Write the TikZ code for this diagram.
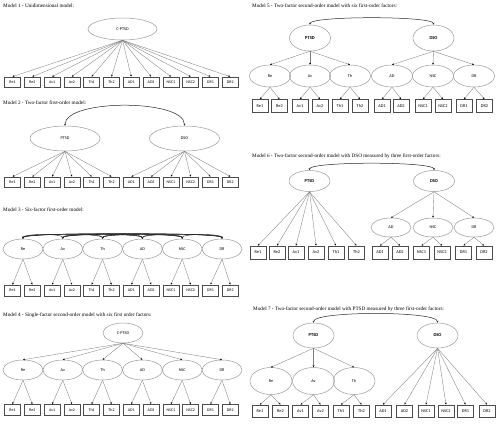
\documentclass[tikz,border=0pt]{standalone}
\usepackage{fontspec}
\setmainfont{Liberation Serif}
\newfontfamily\lblfont{Carlito}
\usetikzlibrary{arrows.meta,shapes.geometric}
\begin{document}
\begin{tikzpicture}[x=1pt,y=-1pt,
 lat/.style={ellipse, draw=black!40, line width=0.5pt, inner sep=0pt, font=\lblfont\fontsize{4.2}{5}\selectfont},
 latb/.style={lat, font=\lblfont\bfseries\fontsize{4.5}{5}\selectfont},
 obs/.style={rectangle, draw=black!70, line width=0.8pt, inner sep=0pt, minimum width=16pt, minimum height=10pt, font=\lblfont\fontsize{4}{5}\selectfont},
 obsr/.style={obs, minimum width=16pt, minimum height=13pt, font=\lblfont\fontsize{4.3}{5}\selectfont},
 arr/.style={draw=black!50, line width=0.35pt, -{Stealth[length=2pt,width=1.8pt,color=black]}},
 cov/.style={draw=black!85, line width=0.5pt, {Stealth[length=2pt,width=1.8pt]}-{Stealth[length=2pt,width=1.8pt]}},
 ttl/.style={anchor=west, inner sep=0pt, font=\fontsize{5.2}{6}\selectfont}]
\useasboundingbox (0,0) rectangle (500,423);

% ---------------- Model 1 ----------------
\node[ttl] (t1) at (3,6) {Model 1 - Unidimensional model:};
\node[lat, minimum width=69pt, minimum height=22pt] (m1c) at (122.5,29) {C-PTSD};
\foreach \lab [count=\i] in {Re1,Re2,Av1,Av2,Th1,Th2,AD1,AD2,NSC1,NSC2,DR1,DR2} {
  \pgfmathsetmacro\xx{12.5+19.8*(\i-1)}
  \node[obs] (m1o\i) at (\xx,82) {\lab};
  \draw[arr] (m1c.south) -- (m1o\i.north);
}

% ---------------- Model 2 ----------------
\node[ttl] (t2) at (3,103) {Model 2 - Two-factor first-order model:};
\node[lat, minimum width=70pt, minimum height=25pt] (m2p) at (65,138.5) {PTSD};
\node[lat, minimum width=70pt, minimum height=25pt] (m2d) at (184.5,138.5) {DSO};
\draw[cov] (m2p.north) .. controls +(0,-27) and +(0,-27) .. (m2d.north);
\foreach \lab [count=\i] in {Re1,Re2,Av1,Av2,Th1,Th2,AD1,AD2,NSC1,NSC2,DR1,DR2} {
  \pgfmathsetmacro\xx{12.5+19.8*(\i-1)}
  \node[obs] (m2o\i) at (\xx,182) {\lab};
}
\foreach \i in {1,...,6} {\draw[arr] (m2p.south) -- (m2o\i.north);}
\foreach \i in {7,...,12} {\draw[arr] (m2d.south) -- (m2o\i.north);}

% ---------------- Model 3 ----------------
\node[ttl] (t3) at (3,210) {Model 3 - Six-factor first-order model:};
\foreach \lab [count=\i] in {Re,Av,Th,AD,NSC,DR} {
  \pgfmathsetmacro\xx{23+39.8*(\i-1)}
  \node[lat, minimum width=40pt, minimum height=20pt] (m3f\i) at (\xx,249) {\lab};
}
\foreach \a in {1,...,5} {
  \pgfmathtruncatemacro\s{\a+1}
  \foreach \b in {\s,...,6} {
    \pgfmathsetmacro\h{-5-0.3*(\b-\a)}
    \draw[cov, line width=0.4pt] (m3f\a.north) .. controls +(0,\h) and +(0,\h) .. (m3f\b.north);
  }
}
\foreach \lab [count=\i] in {Re1,Re2,Av1,Av2,Th1,Th2,AD1,AD2,NSC1,NSC2,DR1,DR2} {
  \pgfmathsetmacro\xx{12.5+19.8*(\i-1)}
  \node[obs, minimum height=11pt] (m3o\i) at (\xx,290.5) {\lab};
  \pgfmathtruncatemacro\f{int((\i+1)/2)}
  \draw[arr] (m3f\f.south) -- (m3o\i.north);
}

% ---------------- Model 4 ----------------
\node[ttl] (t4) at (3,315) {Model 4 - Single-factor second-order model with six first order factors:};
\node[lat, minimum width=40pt, minimum height=20pt] (m4c) at (123,333) {C-PTSD};
\foreach \lab [count=\i] in {Re,Av,Th,AD,NSC,DR} {
  \pgfmathsetmacro\xx{23+39.8*(\i-1)}
  \node[lat, minimum width=40pt, minimum height=20pt] (m4f\i) at (\xx,370) {\lab};
  \draw[arr] (m4c.south) -- (m4f\i.north);
}
\foreach \lab [count=\i] in {Re1,Re2,Av1,Av2,Th1,Th2,AD1,AD2,NSC1,NSC2,DR1,DR2} {
  \pgfmathsetmacro\xx{12.5+19.8*(\i-1)}
  \node[obs, minimum height=11pt] (m4o\i) at (\xx,410) {\lab};
  \pgfmathtruncatemacro\f{int((\i+1)/2)}
  \draw[arr] (m4f\f.south) -- (m4o\i.north);
}

% ---------------- Model 5 ----------------
\node[ttl] (t5) at (252,6) {Model 5 - Two-factor second-order model with six first-order factors:};
\node[latb, minimum width=41pt, minimum height=26pt] (m5p) at (310,38) {PTSD};
\node[latb, minimum width=41pt, minimum height=26pt] (m5d) at (433.5,38) {DSO};
\draw[cov] (m5p.north) .. controls +(0,-9) and +(0,-9) .. (m5d.north);
\foreach \lab/\xx [count=\i] in {Re/270,Av/310,Th/350,AD/392,NSC/433,DR/474} {
  \node[lat, minimum width=41pt, minimum height=22pt] (m5f\i) at (\xx,76) {\lab};
}
\foreach \i in {1,2,3} {\draw[arr] (m5p.south) -- (m5f\i.north);}
\foreach \i in {4,5,6} {\draw[arr] (m5d.south) -- (m5f\i.north);}
\foreach \lab/\xx [count=\i] in {Re1/260,Re2/279.5,Av1/300,Av2/320,Th1/340,Th2/360,AD1/382,AD2/401,NSC1/423,NSC2/443,DR1/464,DR2/484.5} {
  \node[obsr] (m5o\i) at (\xx,106) {\lab};
  \pgfmathtruncatemacro\f{int((\i+1)/2)}
  \draw[arr] (m5f\f.south) -- (m5o\i.north);
}

% ---------------- Model 6 ----------------
\node[ttl] (t6) at (252,156) {Model 6 - Two-factor second-order model with DSO measured by three first-order factors:};
\node[latb, minimum width=41pt, minimum height=21pt] (m6p) at (309.5,181) {PTSD};
\node[latb, minimum width=41pt, minimum height=21pt] (m6d) at (434,181) {DSO};
\draw[cov] (m6p.north) .. controls +(0,-9) and +(0,-9) .. (m6d.north);
\foreach \lab/\xx [count=\i] in {AD/391,NSC/433,DR/474} {
  \node[lat, minimum width=40pt, minimum height=19pt] (m6f\i) at (\xx,227.5) {\lab};
  \draw[arr] (m6d.south) -- (m6f\i.north);
}
\foreach \lab/\xx [count=\i] in {Re1/258,Re2/277,Av1/296,Av2/316,Th1/336,Th2/356.5,AD1/380,AD2/400,NSC1/421.5,NSC2/442,DR1/463.5,DR2/484} {
  \node[obsr] (m6o\i) at (\xx,252.5) {\lab};
}
\foreach \i in {1,...,6} {\draw[arr] (m6p.south) -- (m6o\i.north);}
\foreach \i in {7,...,12} {
  \pgfmathtruncatemacro\f{int((\i-5)/2)}
  \draw[arr] (m6f\f.south) -- (m6o\i.north);
}

% ---------------- Model 7 ----------------
\node[ttl] (t7) at (253,309) {Model 7 - Two-factor second-order model with PTSD measured by three first-order factors:};
\node[latb, minimum width=41pt, minimum height=25pt] (m7p) at (313.5,335.5) {PTSD};
\node[latb, minimum width=41pt, minimum height=25pt] (m7d) at (437.5,335.5) {DSO};
\draw[cov] (m7p.north) .. controls +(0,-12) and +(0,-12) .. (m7d.north);
\foreach \lab/\xx [count=\i] in {Re/271,Av/313.5,Th/354} {
  \node[lat, minimum width=42pt, minimum height=27pt] (m7f\i) at (\xx,381) {\lab};
  \draw[arr] (m7p.south) -- (m7f\i.north);
}
\foreach \lab/\xx [count=\i] in {Re1/260,Re2/280.5,Av1/300.5,Av2/320.5,Th1/341,Th2/361.5,AD1/383,AD2/404.5,NSC1/426,NSC2/446,DR1/465.5,DR2/487} {
  \node[obsr, minimum height=12pt] (m7o\i) at (\xx,411) {\lab};
}
\foreach \i in {1,...,6} {
  \pgfmathtruncatemacro\f{int((\i+1)/2)}
  \draw[arr] (m7f\f.south) -- (m7o\i.north);
}
\foreach \i in {7,...,12} {\draw[arr] (m7d.south) -- (m7o\i.north);}
\end{tikzpicture}
\end{document}
